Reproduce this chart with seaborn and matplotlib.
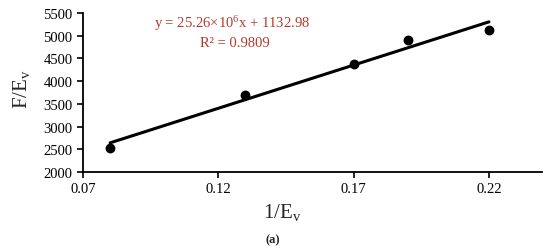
import matplotlib
matplotlib.use("Agg")
import matplotlib.pyplot as plt
import pandas as pd
import seaborn as sns

# valores
inv_ev = [0.08, 0.13, 0.17, 0.19, 0.22]
f_ev = [2530, 3700, 4375, 4900, 5120]
x_ticks = [0.07, 0.12, 0.17, 0.22]
y_ticks = [2000, 2500, 3000, 3500, 4000, 4500, 5000, 5500]
eq_text = "y = 25.26×10$^{6}$x + 1132.98"
r2_text = "R² = 0.9809"

df = pd.DataFrame({"x": inv_ev, "y": f_ev})

sns.set_style("ticks")
plt.rcParams["font.family"] = ["Liberation Serif", "DejaVu Serif"]
plt.rcParams["mathtext.fontset"] = "custom"
plt.rcParams["mathtext.rm"] = "Liberation Serif"
plt.rcParams["mathtext.it"] = "Liberation Serif"

fig = plt.figure(figsize=(5.5, 2.53), dpi=100)
ax = fig.add_axes([0.151, 0.316, 0.834, 0.629])

sns.regplot(
    data=df,
    x="x",
    y="y",
    ax=ax,
    ci=None,
    truncate=True,
    color="black",
    scatter_kws={"s": 50, "linewidths": 0, "alpha": 1, "zorder": 3},
    line_kws={"linewidth": 2.2},
)

ax.set_xlim(0.07, 0.2395)
ax.set_ylim(2000, 5500)
ax.set_xticks(x_ticks)
ax.set_xticklabels([f"{v:.2f}" for v in x_ticks])
ax.set_yticks(y_ticks)
ax.tick_params(labelsize=10.5, length=4, width=1.2, colors="black")
for s in ["left", "bottom"]:
    ax.spines[s].set_linewidth(1.3)
    ax.spines[s].set_color("black")
sns.despine(ax=ax)

ax.set_xlabel("1/E$_\\mathrm{v}$", fontsize=15)
ax.set_ylabel("F/E$_\\mathrm{v}$", fontsize=15)
ax.xaxis.set_label_coords(0.435, -0.185)
ax.yaxis.set_label_coords(-0.112, 0.53)

# equacao da reta
fig.text(0.422, 0.905, eq_text, color="#B03A2E", fontsize=10.5, ha="center", va="center")
fig.text(0.427, 0.83, r2_text, color="#B03A2E", fontsize=10.5, ha="center", va="center")

fig.text(0.495, 0.052, "(a)", fontsize=9, fontweight="bold", ha="center", va="center")

fig.savefig("out.png", dpi=100)
